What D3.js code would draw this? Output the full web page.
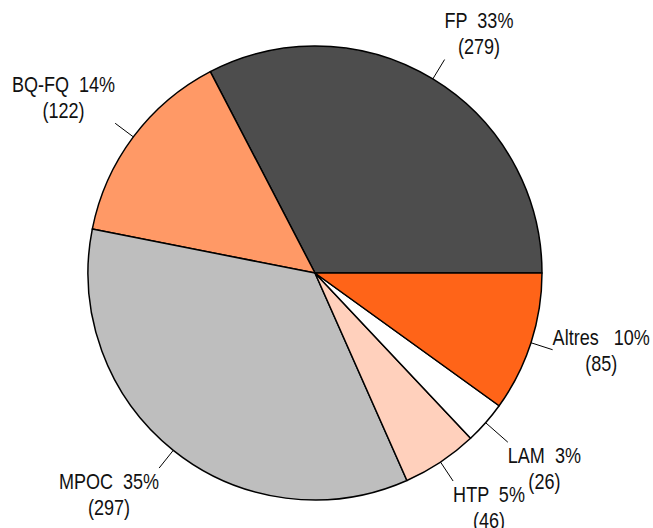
<!DOCTYPE html>
<html>
<head>
<meta charset="utf-8">
<script src="https://cdn.jsdelivr.net/npm/d3@7"></script>
<style>
  html, body { margin: 0; padding: 0; background: #fff; }
  svg text { font-family: "Liberation Sans", Arial, sans-serif; white-space: pre; }
</style>
</head>
<body>
<svg id="chart" width="653" height="528"></svg>
<script>
// ---- data ----
const categories = ["FP", "BQ-FQ", "MPOC", "HTP", "LAM", "Altres"];
const counts     = [279, 122, 297, 46, 26, 85];
const percents   = ["33%", "14%", "35%", "5%", "3%", "10%"];
const sliceColors = ["#4d4d4d", "#ff9966", "#bebebe", "#ffd0bc", "#ffffff", "#ff6418"];

// ---- layout ----
const W = 653, H = 528;
const cx = 315, cy = 273, R = 227;
const fontSize = 22, lineH = 26, squeeze = 0.82;
const tickFactor = { LAM: 1.13 };   // label radius nudges
const gapText = { Altres: "   " };  // spacing between name and percent

const svg = d3.select("#chart");
const g = svg.append("g").attr("transform", `translate(${cx},${cy})`);

const rows = categories.map((c, i) => ({ cat: c, n: counts[i], pct: percents[i], color: sliceColors[i] }));

// counter-clockwise from 3 o'clock
const pie = d3.pie().value(d => d.n).sort(null)
  .startAngle(Math.PI / 2).endAngle(Math.PI / 2 - 2 * Math.PI);
const arcs = pie(rows);
const arc = d3.arc().innerRadius(0).outerRadius(R);

g.selectAll("path.slice").data(arcs).enter().append("path")
  .attr("class", "slice")
  .attr("d", arc)
  .attr("fill", d => d.data.color)
  .attr("stroke", "#000")
  .attr("stroke-width", 1.5)
  .attr("stroke-linejoin", "round");

function addText(x, y, anchor, str) {
  return g.append("text")
    .attr("transform", `translate(${x},${y}) scale(${squeeze},1)`)
    .attr("font-size", fontSize)
    .attr("text-anchor", anchor)
    .attr("fill", "#111")
    .text(str);
}

arcs.forEach(d => {
  const a = (d.startAngle + d.endAngle) / 2;
  const sx = Math.sin(a), sy = -Math.cos(a);
  const f = tickFactor[d.data.cat] || 1.1;
  g.append("line")
    .attr("x1", sx * R).attr("y1", sy * R)
    .attr("x2", sx * R * f).attr("y2", sy * R * f)
    .attr("stroke", "#000").attr("stroke-width", 1);

  const ax = sx * R * f, ay = sy * R * f;
  const right = sx >= 0;
  let shift = 0;
  if (sy < -0.5) shift = -lineH;
  else if (sy > 0.5) shift = lineH;
  const blockCenter = ay + shift;
  const base1 = blockCenter - lineH / 2 + fontSize * 0.36;
  const base2 = base1 + lineH;

  const gap = gapText[d.data.cat] || "  ";
  const t1 = addText(ax, base1, right ? "start" : "end", d.data.cat + gap + d.data.pct);
  const w1 = t1.node().getComputedTextLength() * squeeze;
  const mid = right ? ax + w1 / 2 : ax - w1 / 2;
  addText(mid, base2, "middle", "(" + d.data.n + ")");
});
</script>
</body>
</html>
